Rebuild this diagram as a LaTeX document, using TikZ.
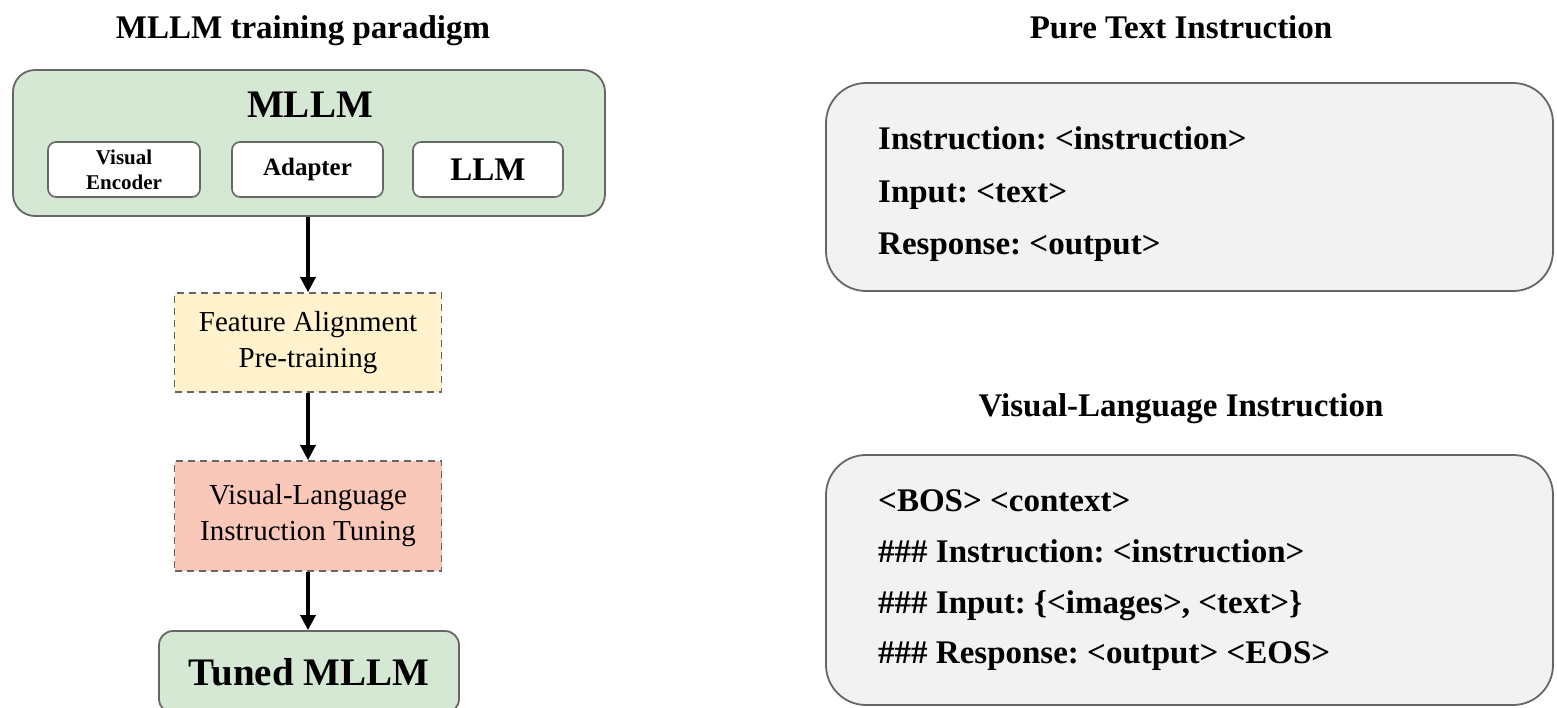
\documentclass[tikz,border=0pt]{standalone}
\usepackage{fontspec}
\setmainfont{Liberation Serif}
\usetikzlibrary{arrows.meta}
\definecolor{boxgreen}{HTML}{D5E8D4}
\definecolor{boxyellow}{HTML}{FFF2CC}
\definecolor{boxred}{HTML}{FAC8B8}
\definecolor{boxgray}{HTML}{F2F2F2}
\definecolor{edgegray}{HTML}{666666}
\newcommand{\fs}[2]{\fontsize{#1}{#2}\selectfont}
\frenchspacing
\begin{document}
\begin{tikzpicture}[x=1pt,y=-1pt,
  panel/.style={draw=edgegray, line width=1.8pt, inner sep=0pt, rounded corners=#1},
  part/.style={draw=edgegray, line width=1.6pt, fill=white, rounded corners=8pt, inner sep=0pt,
               minimum height=55pt, align=center},
  stage/.style={draw=edgegray, line width=1.6pt, dash pattern=on 7pt off 5pt, inner sep=0pt,
                minimum width=267pt, align=center, font=\fs{29}{36}},
  flow/.style={line width=3.2pt, -{Triangle[length=15pt, width=15pt]}},
  title/.style={font=\bfseries\fs{33}{36}, anchor=base, inner sep=0pt},
  line/.style={font=\bfseries\fs{33}{36}, anchor=base west, inner sep=0pt}
]
\useasboundingbox (0,0) rectangle (1557,707);
\clip (0,0) rectangle (1557,707);

% ---- left column: training pipeline ----
\node[title] (ltitle) at (303,38) {MLLM training paradigm};

\node[panel=22pt, fill=boxgreen, minimum width=592pt, minimum height=146pt] (mllm) at (309,143) {};
\node[font=\bfseries\fs{39}{40}, anchor=base, inner sep=0pt] (mllmlabel) at (310,117) {MLLM};
\node[part, minimum width=152pt, font=\bfseries\fs{21}{25}] (enc) at (124,169.5) {Visual\\Encoder};
\node[part, minimum width=151pt, font=\bfseries\fs{25}{28}] (adapter) at (307.5,169.5) {Adapter};
\node[part, minimum width=150pt, font=\bfseries\fs{33}{34}] (llm) at (488,169.5) {LLM};

\node[stage, fill=boxyellow, minimum height=99pt] (align) at (308,342.5) {Feature Alignment\\Pre-training};
\node[stage, fill=boxred, minimum height=110pt] (tune) at (308,516) {Visual-Language\\Instruction Tuning};

\node[panel=14pt, fill=boxgreen, minimum width=300pt, minimum height=82pt,
      font=\bfseries\fs{39}{42}] (tuned) at (309,672) {Tuned MLLM};

\draw[flow] (mllm.south -| align.north) -- (align.north);
\draw[flow] (align.south) -- (tune.north);
\draw[flow] (tune.south) -- (tuned.north -| tune.south);

% ---- right column: instruction templates ----
\node[title] (ptitle) at (1181,38) {Pure Text Instruction};
\node[panel=40pt, fill=boxgray, minimum width=727pt, minimum height=208pt] (pure) at (1189.5,187) {};
\node[line] (p1) at (878,149) {Instruction: <instruction>};
\node[line] (p2) at (878,202) {Input: <text>};
\node[line] (p3) at (878,254) {Response: <output>};

\node[title] (vtitle) at (1181,416) {Visual-Language Instruction};
\node[panel=40pt, fill=boxgray, minimum width=727pt, minimum height=250pt] (vl) at (1189.5,580) {};
\node[line] (v1) at (878,511) {<BOS> <context>};
\node[line] (v2) at (878,562) {\#\#\# Instruction: <instruction>};
\node[line] (v3) at (878,613) {\#\#\# Input: \{<images>, <text>\}};
\node[line] (v4) at (878,663) {\#\#\# Response: <output> <EOS>};
\end{tikzpicture}
\end{document}
